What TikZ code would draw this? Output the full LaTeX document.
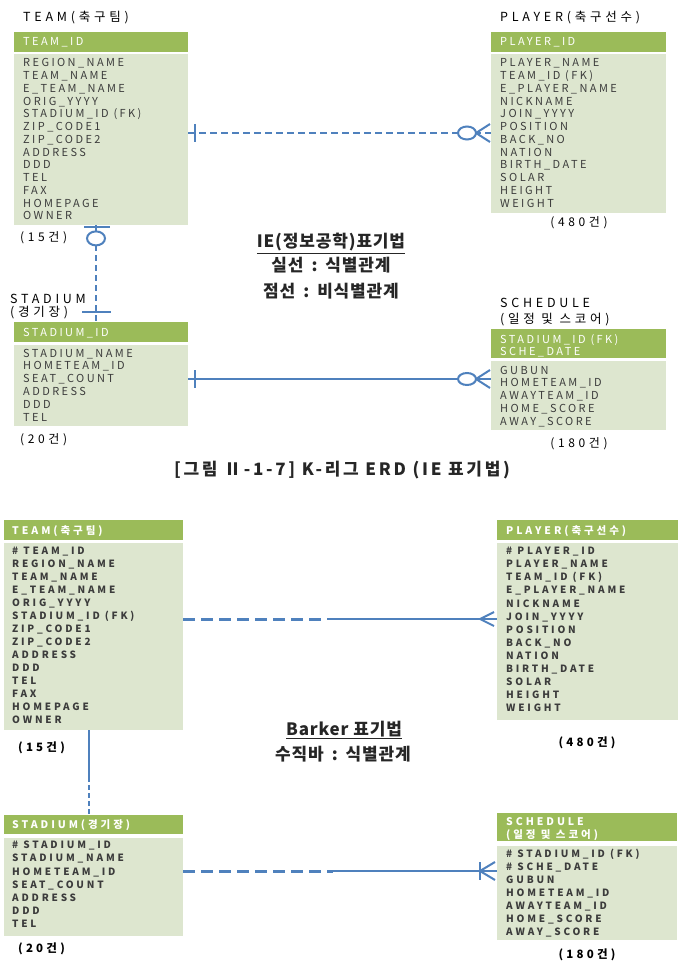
\documentclass[tikz,border=0pt]{standalone}
\usepackage{fontspec}
\setmainfont{Noto Sans CJK KR}
\newfontfamily\iefont[LetterSpace=22]{Noto Sans CJK KR}
\newfontfamily\lblfont[LetterSpace=30]{Noto Sans CJK KR}
\newfontfamily\bkfont[LetterSpace=28]{Noto Sans CJK KR}
\newfontfamily\notefont[LetterSpace=5]{Noto Sans CJK KR}
\newfontfamily\capfont[LetterSpace=16]{Noto Sans CJK KR}
\usetikzlibrary{calc}
\definecolor{hdrgreen}{RGB}{155,187,89}
\definecolor{bodygreen}{RGB}{221,230,207}
\definecolor{relblue}{RGB}{79,129,189}
\definecolor{fldgray}{RGB}{60,60,60}
\tikzset{
  hdrbox/.style={fill=hdrgreen, anchor=north west, inner sep=0pt},
  bodybox/.style={fill=bodygreen, anchor=north west, inner sep=0pt},
  lbl/.style={anchor=base west, inner sep=0pt, font=\lblfont\fontsize{12.5}{14}\selectfont},
  iefld/.style={anchor=base west, inner sep=0pt, text=fldgray, font=\iefont\fontsize{11}{12}\selectfont},
  iehdr/.style={iefld, text=white},
  bkfld/.style={anchor=base west, inner sep=0pt, text=fldgray, font=\bkfont\bfseries\fontsize{10}{12}\selectfont},
  bkhdr/.style={bkfld, text=white, font=\bkfont\bfseries\fontsize{10.5}{12}\selectfont},
  cnt/.style={anchor=base west, inner sep=0pt, font=\lblfont\fontsize{12}{13}\selectfont},
  bkcnt/.style={bkfld, text=black, font=\bkfont\bfseries\fontsize{11.5}{13}\selectfont},
  note/.style={anchor=base, inner sep=0pt, text=black!85, font=\notefont\bfseries\fontsize{17}{20}\selectfont},
  rel/.style={draw=relblue, line width=2pt},
  iedash/.style={rel, line width=2.5pt, dash pattern=on 7pt off 4pt},
  bkdash/.style={rel, line width=3pt, dash pattern=on 12pt off 6pt},
}
\newcommand{\colsep}{\hspace{8pt}:\hspace{8pt}}
\begin{document}
\begin{tikzpicture}[x=1pt, y=-1pt]
\useasboundingbox (0,0) rectangle (686,965);

% ---- IE notation ----
% TEAM
\node[lbl] (teamL) at (23,21.5) {TEAM(축구팀)};
\node[hdrbox, minimum width=174pt, minimum height=20pt] (teamK) at (14,32) {};
\node[iehdr] (teamKey) at (23,46) {TEAM\_ID};
\node[bodybox, minimum width=174pt, minimum height=171pt] (teamB) at (14,54) {};
\foreach \f [count=\i] in {REGION\_NAME, TEAM\_NAME, E\_TEAM\_NAME, ORIG\_YYYY,
    STADIUM\_ID (FK), ZIP\_CODE1, ZIP\_CODE2, ADDRESS, DDD, TEL, FAX, HOMEPAGE, OWNER}
  \node[iefld] (teamf\i) at (23,{54.25+12.75*\i}) {\f};
\node[cnt] (teamN) at (20,242) {(15건)};

% PLAYER
\node[lbl] (playerL) at (500,21.5) {PLAYER(축구선수)};
\node[hdrbox, minimum width=175pt, minimum height=20pt] (playerK) at (491,32) {};
\node[iehdr] (playerKey) at (500,46) {PLAYER\_ID};
\node[bodybox, minimum width=175pt, minimum height=159pt] (playerB) at (491,54) {};
\foreach \f [count=\i] in {PLAYER\_NAME, TEAM\_ID (FK), E\_PLAYER\_NAME, NICKNAME,
    JOIN\_YYYY, POSITION, BACK\_NO, NATION, BIRTH\_DATE, SOLAR, HEIGHT, WEIGHT}
  \node[iefld] (playerf\i) at (500,{54.25+12.75*\i}) {\f};
\node[cnt, anchor=base] (playerN) at (579,227) {(480건)};

% STADIUM
\node[lbl] (stadL) at (10,303.5) {STADIUM};
\node[lbl] (stadL2) at (10,316.5) {(경기장)};
\node[hdrbox, minimum width=174pt, minimum height=20pt] (stadK) at (14,322) {};
\node[iehdr] (stadKey) at (23,336) {STADIUM\_ID};
\node[bodybox, minimum width=174pt, minimum height=81pt] (stadB) at (14,345) {};
\foreach \f [count=\i] in {STADIUM\_NAME, HOMETEAM\_ID, SEAT\_COUNT, ADDRESS, DDD, TEL}
  \node[iefld] (stadf\i) at (23,{344.2+12.8*\i}) {\f};
\node[cnt] (stadN) at (20,443) {(20건)};

% SCHEDULE
\node[lbl] (schL) at (500,307.5) {SCHEDULE};
\node[lbl] (schL2) at (500,323.5) {(일정 및 스코어)};
\node[hdrbox, minimum width=175pt, minimum height=29pt] (schK) at (491,329) {};
\node[iehdr] (schKey1) at (500,343) {STADIUM\_ID (FK)};
\node[iehdr] (schKey2) at (500,355) {SCHE\_DATE};
\node[bodybox, minimum width=175pt, minimum height=69pt] (schB) at (491,361) {};
\foreach \f [count=\i] in {GUBUN, HOMETEAM\_ID, AWAYTEAM\_ID, HOME\_SCORE, AWAY\_SCORE}
  \node[iefld] (schf\i) at (500,{361.25+12.75*\i}) {\f};
\node[cnt, anchor=base] (schN) at (579,447) {(180건)};

% relations
\coordinate (tpA) at (teamB.east |- 0,133);
\coordinate (tpB) at (playerB.west |- 0,133);
\draw[iedash] (tpA) -- (tpB);
\draw[rel] ($(tpA)+(7,-9)$) -- ($(tpA)+(7,9)$);
\draw[rel] ($(tpB)+(-1,-9)$) -- ($(tpB)+(-15,0)$) -- ($(tpB)+(-1,9)$);
\draw[rel, fill=white] ($(tpB)+(-24,0)$) ellipse [x radius=9pt, y radius=6.5pt];

\coordinate (tsA) at (teamB.south -| 96,0);
\coordinate (tsB) at (stadK.north -| 96,0);
\draw[iedash, dash pattern=on 6pt off 4pt] (tsA) -- (tsB);
\draw[rel] ($(tsA)+(-12,2)$) -- ($(tsA)+(14,2)$);
\draw[rel, fill=white] ($(tsA)+(0,13)$) ellipse [x radius=9pt, y radius=7pt];
\draw[rel] ($(tsB)+(-14,-10)$) -- ($(tsB)+(15,-10)$);

\coordinate (ssA) at (stadB.east |- 0,379);
\coordinate (ssB) at (schB.west |- 0,379);
\draw[rel] (ssA) -- (ssB);
\draw[rel] ($(ssA)+(7,-9)$) -- ($(ssA)+(7,9)$);
\draw[rel] ($(ssB)+(-1,-9)$) -- ($(ssB)+(-15,0)$) -- ($(ssB)+(-1,9)$);
\draw[rel, fill=white] ($(ssB)+(-24,0)$) ellipse [x radius=9pt, y radius=6pt];

% legend
\node[note] (ieT) at (331,248) {\underline{IE(정보공학)표기법}};
\node[note] (ieS) at (331,272) {실선\colsep 식별관계};
\node[note] (ieD) at (331,298) {점선\colsep 비식별관계};
\node[note, font=\capfont\bfseries\fontsize{17}{19}\selectfont] (cap) at (342,475) {[그림 Ⅱ-1-7] K-리그 ERD (IE 표기법)};

% ---- Barker notation ----
% TEAM
\node[hdrbox, minimum width=179pt, minimum height=20pt] (bteamK) at (4,520) {};
\node[bkhdr] (bteamKey) at (12,534) {TEAM(축구팀)};
\node[bodybox, minimum width=179pt, minimum height=187pt] (bteamB) at (4,543) {};
\foreach \f [count=\i] in {\# TEAM\_ID, REGION\_NAME, TEAM\_NAME, E\_TEAM\_NAME, ORIG\_YYYY,
    STADIUM\_ID (FK), ZIP\_CODE1, ZIP\_CODE2, ADDRESS, DDD, TEL, FAX, HOMEPAGE, OWNER}
  \node[bkfld] (bteamf\i) at (12,{541.7+13*\i}) {\f};
\node[bkcnt] (bteamN) at (18,751) {(15건)};

% PLAYER
\node[hdrbox, minimum width=181pt, minimum height=20pt] (bplayerK) at (497,520) {};
\node[bkhdr] (bplayerKey) at (506,534) {PLAYER(축구선수)};
\node[bodybox, minimum width=181pt, minimum height=177pt] (bplayerB) at (497,543) {};
\foreach \f [count=\i] in {\# PLAYER\_ID, PLAYER\_NAME, TEAM\_ID (FK), E\_PLAYER\_NAME, NICKNAME,
    JOIN\_YYYY, POSITION, BACK\_NO, NATION, BIRTH\_DATE, SOLAR, HEIGHT, WEIGHT}
  \node[bkfld] (bplayerf\i) at (506,{541.6+13.08*\i}) {\f};
\node[bkcnt, anchor=base] (bplayerN) at (587,746) {(480건)};

% STADIUM
\node[hdrbox, minimum width=179pt, minimum height=19pt] (bstadK) at (4,815) {};
\node[bkhdr] (bstadKey) at (12,828) {STADIUM(경기장)};
\node[bodybox, minimum width=179pt, minimum height=98pt] (bstadB) at (4,838) {};
\foreach \f [count=\i] in {\# STADIUM\_ID, STADIUM\_NAME, HOMETEAM\_ID, SEAT\_COUNT, ADDRESS, DDD, TEL}
  \node[bkfld] (bstadf\i) at (12,{835.5+13.17*\i}) {\f};
\node[bkcnt] (bstadN) at (18,952) {(20건)};

% SCHEDULE
\node[hdrbox, minimum width=180pt, minimum height=28pt] (bschK) at (497,813) {};
\node[bkhdr] (bschKey1) at (506,825) {SCHEDULE};
\node[bkhdr] (bschKey2) at (506,838) {(일정 및 스코어)};
\node[bodybox, minimum width=180pt, minimum height=94pt] (bschB) at (497,846) {};
\foreach \f [count=\i] in {\# STADIUM\_ID (FK), \# SCHE\_DATE, GUBUN, HOMETEAM\_ID,
    AWAYTEAM\_ID, HOME\_SCORE, AWAY\_SCORE}
  \node[bkfld] (bschf\i) at (506,{844.7+13*\i}) {\f};
\node[bkcnt, anchor=base] (bschN) at (587,958) {(180건)};

% relations
\coordinate (btpA) at (bteamB.east |- 0,619);
\coordinate (btpM) at (327,619);
\coordinate (btpB) at (bplayerB.west |- 0,619);
\draw[bkdash] (btpA) -- (btpM);
\draw[rel] (btpM) -- (btpB);
\draw[rel] ($(btpB)+(-3,-7)$) -- ($(btpB)+(-17,0)$) -- ($(btpB)+(-3,7)$);

\coordinate (btsA) at (bteamB.south -| 89,0);
\coordinate (btsM) at (89,777);
\coordinate (btsB) at (bstadK.north -| 89,0);
\draw[rel, line width=2.5pt] (btsA) -- (btsM);
\draw[rel, line width=2.5pt, dash pattern=on 5pt off 3pt] (btsM) -- (btsB);

\coordinate (bssA) at (bstadB.east |- 0,871);
\coordinate (bssM) at (333,871);
\coordinate (bssB) at (bschB.west |- 0,871);
\draw[bkdash] (bssA) -- (bssM);
\draw[rel] (bssM) -- (bssB);
\draw[rel] ($(bssB)+(-17,-9)$) -- ($(bssB)+(-17,9)$);
\draw[rel] ($(bssB)+(-2,-9)$) -- ($(bssB)+(-17,0)$) -- ($(bssB)+(-2,9)$);

% legend
\node[note] (bkT) at (344,735) {\underline{Barker 표기법}};
\node[note] (bkS) at (343,760) {수직바\colsep 식별관계};
\end{tikzpicture}
\end{document}
